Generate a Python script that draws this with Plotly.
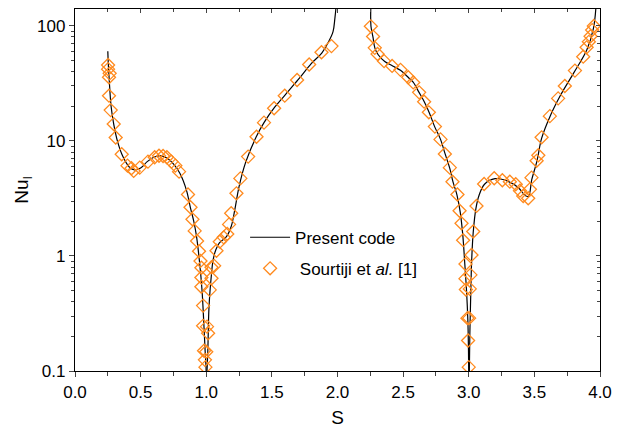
import plotly.graph_objects as go

# ---- Present code (solid line), four branches separated by singularities ----
line_a_x = [0.250, 0.254, 0.262, 0.275, 0.295, 0.325, 0.365, 0.415, 0.455, 0.500, 0.550, 0.600,
            0.650, 0.700, 0.750, 0.800, 0.850, 0.880, 0.905, 0.925, 0.950, 0.968, 0.980, 0.991, 0.998, 1.000]
line_a_y = [60.0, 46.0, 32.0, 20.0, 14.0, 9.8, 7.3, 5.9, 5.6, 5.8, 6.6, 7.2,
            7.45, 7.1, 6.3, 5.2, 3.7, 2.6, 2.0, 1.5, 0.86, 0.50, 0.28, 0.153, 0.11, 0.09]

line_b_x = [1.004, 1.012, 1.021, 1.040, 1.052, 1.073, 1.100, 1.154, 1.190, 1.217, 1.250, 1.300,
            1.380, 1.440, 1.520, 1.600, 1.700, 1.800, 1.880, 1.930, 1.966, 1.980, 1.990]
line_b_y = [0.09, 0.15, 0.36, 0.70, 0.92, 1.13, 1.30, 1.47, 1.80, 2.5, 4.0, 6.5,
            10.8, 14.4, 19.5, 25.0, 34.0, 47.0, 58.0, 72.0, 89.0, 116.0, 150.0]

line_c_x = [2.254, 2.255, 2.270, 2.285, 2.310, 2.360, 2.420, 2.480, 2.540, 2.580, 2.620, 2.660,
            2.700, 2.740, 2.785, 2.820, 2.855, 2.880, 2.910, 2.935, 2.955, 2.970, 2.983, 2.993, 2.998, 3.000]
line_c_y = [150.0, 99.0, 80.0, 64.0, 56.0, 49.0, 44.8, 41.0, 35.5, 32.0, 26.5, 22.0,
            17.5, 13.3, 10.3, 7.7, 5.8, 4.4, 3.4, 2.4, 1.5, 0.85, 0.50, 0.28, 0.15, 0.09]

line_d_x = [3.004, 3.008, 3.015, 3.022, 3.034, 3.055, 3.080, 3.120, 3.200, 3.300, 3.380, 3.430,
            3.455, 3.480, 3.520, 3.555, 3.620, 3.700, 3.800, 3.900, 3.950, 3.968]
line_d_y = [0.09, 0.20, 0.45, 0.90, 1.60, 2.60, 3.40, 4.20, 4.70, 4.45, 3.90, 3.35,
            3.30, 4.60, 6.70, 10.5, 16.4, 25.0, 39.0, 62.0, 95.0, 140.0]

# ---- Sourtiji et al. [1] (open diamonds) ----
ref_x = [0.252, 0.252, 0.264, 0.259, 0.259, 0.272, 0.295, 0.310, 0.356, 0.400, 0.430, 0.447,
         0.493, 0.556, 0.607, 0.640, 0.671, 0.700, 0.735, 0.765, 0.793, 0.861, 0.880, 0.895,
         0.912, 0.930, 0.945, 0.956, 0.963, 0.963, 0.963, 0.976, 0.976, 0.983, 0.990, 0.994,
         1.000, 1.006, 1.014, 1.027, 1.040, 1.040, 1.060, 1.078, 1.103, 1.133, 1.160, 1.174,
         1.190, 1.230, 1.260, 1.319, 1.383, 1.440, 1.517, 1.598, 1.692, 1.784, 1.878, 1.954,
         2.254, 2.271, 2.284, 2.305, 2.355, 2.416, 2.480, 2.539, 2.577, 2.622, 2.660, 2.696,
         2.742, 2.785, 2.818, 2.856, 2.876, 2.914, 2.930, 2.945, 2.957, 2.975, 2.975, 2.978,
         2.990, 2.995, 3.000, 3.003, 3.008, 3.013, 3.021, 3.034, 3.059, 3.117, 3.194, 3.256,
         3.313, 3.358, 3.390, 3.415, 3.453, 3.466, 3.478, 3.517, 3.530, 3.555, 3.618, 3.681,
         3.732, 3.809, 3.872, 3.898, 3.915, 3.928, 3.940, 3.953]
ref_y = [45.6, 42.0, 38.6, 35.7, 24.7, 18.5, 14.0, 10.7, 7.65, 6.09, 5.78, 5.48,
         5.85, 6.6, 7.2, 7.43, 7.39, 7.2, 6.6, 6.09, 5.4, 3.42, 2.65, 2.08,
         1.65, 1.35, 1.10, 0.905, 0.79, 0.65, 0.54, 0.37, 0.247, 0.15, 0.125, 0.108,
         0.147, 0.243, 0.213, 0.507, 0.64, 0.797, 0.82, 1.11, 1.33, 1.45, 1.55, 1.88,
         2.35, 3.5, 4.72, 7.3, 10.86, 14.4, 19.2, 24.7, 33.8, 46.1, 58.9, 66.6,
         99.0, 80.6, 64.3, 56.9, 49.3, 44.8, 41.4, 35.7, 32.2, 26.4, 21.9, 17.7,
         13.3, 10.3, 7.69, 5.85, 4.42, 3.42, 2.47, 1.92, 1.37, 0.85, 0.635, 0.51,
         0.288, 0.184, 0.108, 0.288, 0.517, 0.684, 1.02, 1.63, 2.72, 4.22, 4.73, 4.55,
         4.42, 4.2, 3.69, 3.32, 3.17, 3.79, 4.79, 6.71, 7.5, 10.74, 16.4, 23.4,
         30.0, 40.8, 53.9, 65.0, 72.6, 81.2, 91.8, 99.6]

x_ticks = [0.0, 0.5, 1.0, 1.5, 2.0, 2.5, 3.0, 3.5, 4.0]
x_tick_text = ["0.0", "0.5", "1.0", "1.5", "2.0", "2.5", "3.0", "3.5", "4.0"]
y_ticks = [0.1, 1, 10, 100]
y_tick_text = ["0.1", "1", "10", "100"]
x_range = [0, 4]
y_log_range = [-1, 2.146]

FONT = "Liberation Sans, Arial, sans-serif"
ORANGE = "#FF8A1E"

fig = go.Figure()
line_style = dict(color="black", width=1.2)
for i, (lx, ly) in enumerate([(line_a_x, line_a_y), (line_b_x, line_b_y),
                              (line_c_x, line_c_y), (line_d_x, line_d_y)]):
    fig.add_trace(go.Scatter(x=lx, y=ly, mode="lines", line=line_style, line_shape="spline",
                             name="Present code", legendgroup="pc", showlegend=(i == 0)))
# reference data drawn on the top/right axes, which share identical ranges
fig.add_trace(go.Scatter(x=ref_x, y=ref_y, mode="markers", name=" Sourtiji et <i>al.</i> [1]",
                         legendgroup="ref", xaxis="x2", yaxis="y2",
                         marker=dict(symbol="diamond-open", size=10, color=ORANGE,
                                     line=dict(color=ORANGE, width=1.3))))

fig.update_layout(
    width=619, height=428,
    margin=dict(l=75, r=19, t=9, b=57),
    paper_bgcolor="white", plot_bgcolor="white",
    font=dict(family=FONT, size=17, color="black"),
    showlegend=True,
    legend=dict(x=0.324, y=0.418, xanchor="left", yanchor="top", bgcolor="rgba(0,0,0,0)",
                font=dict(size=17), tracegroupgap=6, itemwidth=40),
    xaxis=dict(range=x_range, tickvals=x_ticks, ticktext=x_tick_text, ticks="outside", ticklen=5,
               tickwidth=1, showline=True, mirror=True, linecolor="black", linewidth=1.3,
               showgrid=False, zeroline=False, automargin=False,
               minor=dict(dtick=0.25, ticks="outside", ticklen=4, tickwidth=1),
               title=dict(text="S", font=dict(size=19), standoff=10)),
    yaxis=dict(type="log", range=y_log_range, tickvals=y_ticks, ticktext=y_tick_text,
               ticks="outside", ticklen=5, tickwidth=1, showline=True, mirror=True,
               linecolor="black", linewidth=1.3, showgrid=False, zeroline=False,
               automargin=False,
               minor=dict(ticks="outside", ticklen=3, tickwidth=1, dtick="D1"),
               title=dict(text="Nu<sub>l</sub>", font=dict(size=19), standoff=3)),
    xaxis2=dict(range=x_range, overlaying="x", side="top", anchor="y", tickvals=x_ticks,
                ticks="inside", ticklen=4, tickwidth=1, showticklabels=False, showline=True,
                linecolor="black", linewidth=1.3, showgrid=False, zeroline=False,
                automargin=False, minor=dict(dtick=0.25, ticks="inside", ticklen=3, tickwidth=1)),
    yaxis2=dict(type="log", range=y_log_range, overlaying="y", side="right", anchor="x",
                tickvals=y_ticks, ticks="inside", ticklen=4, tickwidth=1, showticklabels=False,
                showline=True, linecolor="black", linewidth=1.3, showgrid=False,
                zeroline=False, automargin=False,
                minor=dict(ticks="inside", ticklen=3, tickwidth=1, dtick="D1")),
)
fig.write_html("out.html", config={"displayModeBar": False},
               post_script="document.body.style.margin='0px';")
